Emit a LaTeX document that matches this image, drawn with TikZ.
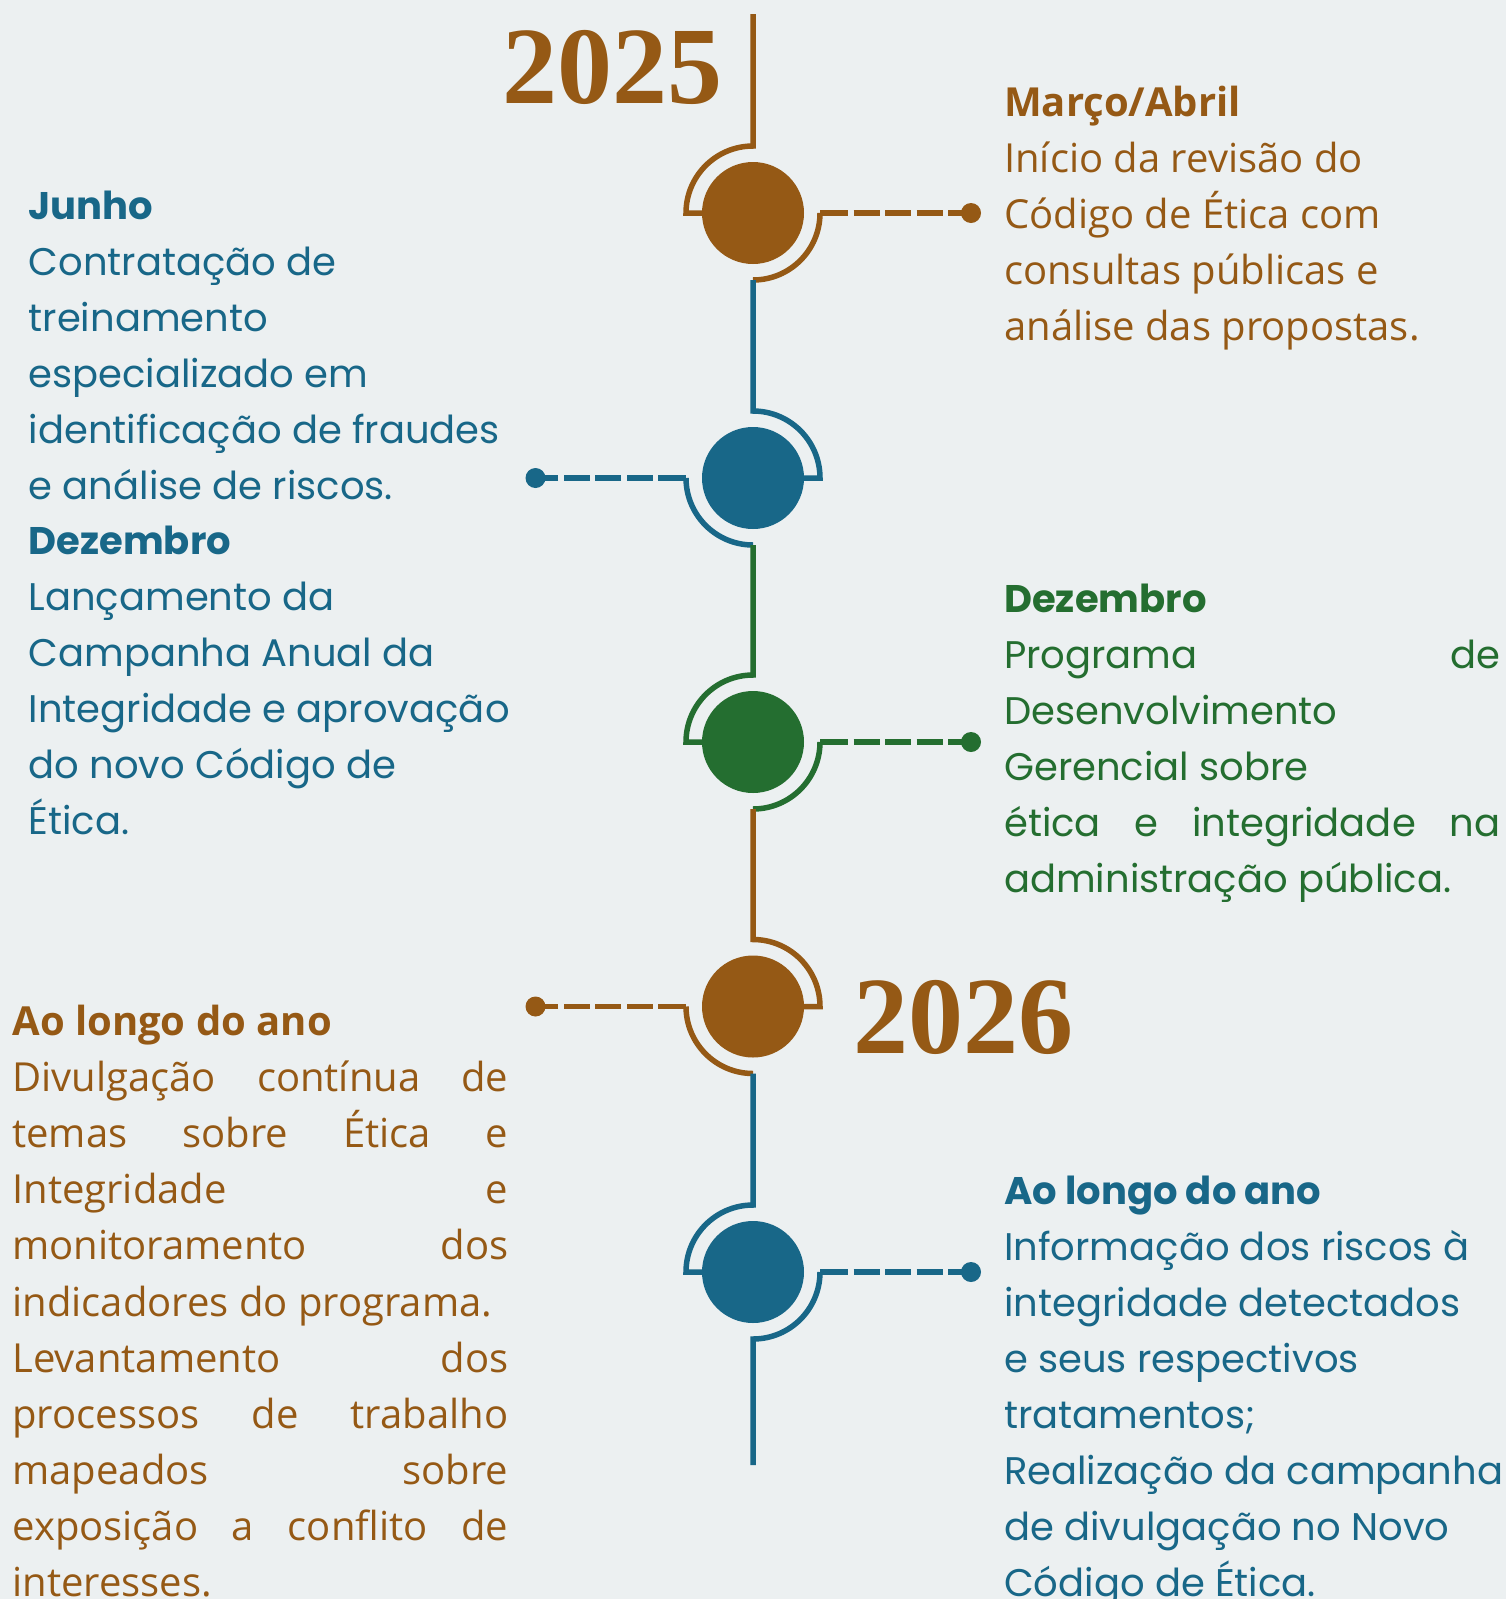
\documentclass[tikz,border=0pt]{standalone}
\usepackage{fontspec}
\setmainfont{Open Sans}
\newfontfamily\gfont{Poppins}
\newfontfamily\ofont{Open Sans}
\newfontfamily\yfont{Liberation Serif}
\definecolor{bg}{HTML}{ECF0F1}
\definecolor{brn}{HTML}{955915}
\definecolor{blu}{HTML}{186788}
\definecolor{grn}{HTML}{246E30}
\newcommand{\jline}[2]{\makebox[#1][s]{#2}}
\tikzset{
  tl/.style={line width=5.5pt, line cap=butt, line join=miter},
  dashln/.style={line width=5.5pt, dash pattern=on 28pt off 5.5pt on 26pt off 5.5pt on 26pt off 5.5pt on 26pt off 5.5pt on 60pt off 1pt},
  bigdot/.style={circle, inner sep=0pt, minimum size=102pt},
  smalldot/.style={circle, inner sep=0pt, minimum size=20pt},
  txt/.style={anchor=base west, inner sep=0pt},
  yr/.style={anchor=base west, inner sep=0pt, text=brn, font=\yfont\bfseries\fontsize{110}{110}\selectfont}
}
\begin{document}
\begin{tikzpicture}[x=1pt,y=1pt]
\fill[bg] (0,0) rectangle (1506,-1599);
\useasboundingbox (0,0) rectangle (1506,-1599);

% connector end points
\coordinate (a1) at (820,-213);
\coordinate (a2) at (686,-478);
\coordinate (a3) at (820,-742);
\coordinate (a4) at (686,-1006.5);
\coordinate (a5) at (820,-1272);

% dots
\node[smalldot, fill=brn] (d1) at (971,-213) {};
\node[smalldot, fill=blu] (d2) at (535.5,-478) {};
\node[smalldot, fill=grn] (d3) at (971,-742) {};
\node[smalldot, fill=brn] (d4) at (535.5,-1006.5) {};
\node[smalldot, fill=blu] (d5) at (971,-1272) {};

% spine and arcs
\draw[tl, brn] (753,-14) -- (753,-146) arc[start angle=90, end angle=180, radius=67] -- (712,-213);
\draw[tl, brn] (753,-280) arc[start angle=270, end angle=360, radius=67];
\draw[tl, blu] (753,-280) -- (753,-411) arc[start angle=90, end angle=0, radius=67] -- (794,-478);
\draw[tl, blu] (686,-478) arc[start angle=180, end angle=270, radius=67];
\draw[tl, grn] (753,-545) -- (753,-675) arc[start angle=90, end angle=180, radius=67] -- (712,-742);
\draw[tl, grn] (753,-809) arc[start angle=270, end angle=360, radius=67];
\draw[tl, brn] (753,-809) -- (753,-939.5) arc[start angle=90, end angle=0, radius=67] -- (794,-1006.5);
\draw[tl, brn] (686,-1006.5) arc[start angle=180, end angle=270, radius=67];
\draw[tl, blu] (753,-1073.5) -- (753,-1205) arc[start angle=90, end angle=180, radius=67] -- (712,-1272);
\draw[tl, blu] (820,-1272) arc[start angle=0, end angle=-90, radius=67] -- (753,-1465);

% dashed connectors
\draw[dashln, brn] (a1) -- (d1.center);
\draw[dashln, blu] (a2) -- (d2.center);
\draw[dashln, grn] (a3) -- (d3.center);
\draw[dashln, brn] (a4) -- (d4.center);
\draw[dashln, blu] (a5) -- (d5.center);

% big circles
\node[bigdot, fill=brn] (c1) at (753,-213) {};
\node[bigdot, fill=blu] (c2) at (753,-478) {};
\node[bigdot, fill=grn] (c3) at (753,-742) {};
\node[bigdot, fill=brn] (c4) at (753,-1006.5) {};
\node[bigdot, fill=blu] (c5) at (753,-1272) {};

% years
\node[yr] (y25) at (502,-103) {2025};
\node[yr] (y26) at (853,-1053) {2026};

% texts
\node[txt, text=brn] (t1) at (1004,-116.5) {\parbox[t]{560pt}{\ofont\fontsize{40}{56}\selectfont\raggedright
\textbf{Março/Abril}\\
Início da revisão do\\
Código de Ética com\\
consultas públicas e\\
análise das propostas.}};

\node[txt, text=blu] (t2) at (28.5,-219.5) {\parbox[t]{600pt}{\gfont\fontsize{38.5}{55.9}\selectfont\raggedright
\textbf{Junho}\\
Contratação de\\
treinamento\\
especializado em\\
identificação de fraudes\\
e análise de riscos.\\
\textbf{Dezembro}\\
Lançamento da\\
Campanha Anual da\\
Integridade e aprovação\\
do novo Código de\\
Ética.}};

\node[txt, text=grn] (t3) at (1004,-612.5) {\parbox[t]{560pt}{\gfont\fontsize{38.5}{56}\selectfont\raggedright
\textbf{Dezembro}\\
\jline{496pt}{Programa de}\\
Desenvolvimento\\
Gerencial sobre\\
\jline{496pt}{ética e integridade na}\\
administração pública.}};

\node[txt, text=brn] (t4) at (12.2,-1035.5) {\parbox[t]{560pt}{\ofont\fontsize{40}{56.1}\selectfont\raggedright
\textbf{Ao longo do ano}\\
\jline{496pt}{Divulgação contínua de}\\
\jline{496pt}{temas sobre Ética e}\\
\jline{496pt}{Integridade e}\\
\jline{496pt}{monitoramento dos}\\
indicadores do programa.\\
\jline{496pt}{Levantamento dos}\\
\jline{496pt}{processos de trabalho}\\
\jline{496pt}{mapeados sobre}\\
\jline{496pt}{exposição a conflito de}\\
interesses.}};

\node[txt, text=blu] (t5) at (1004,-1204) {\parbox[t]{560pt}{\gfont\fontsize{38.5}{56.1}\selectfont\raggedright
\textbf{Ao longo do ano}\\
Informação dos riscos à\\
integridade detectados\\
e seus respectivos\\
tratamentos;\\
Realização da campanha\\
de divulgação no Novo\\
Código de Ética.}};
\end{tikzpicture}
\end{document}
